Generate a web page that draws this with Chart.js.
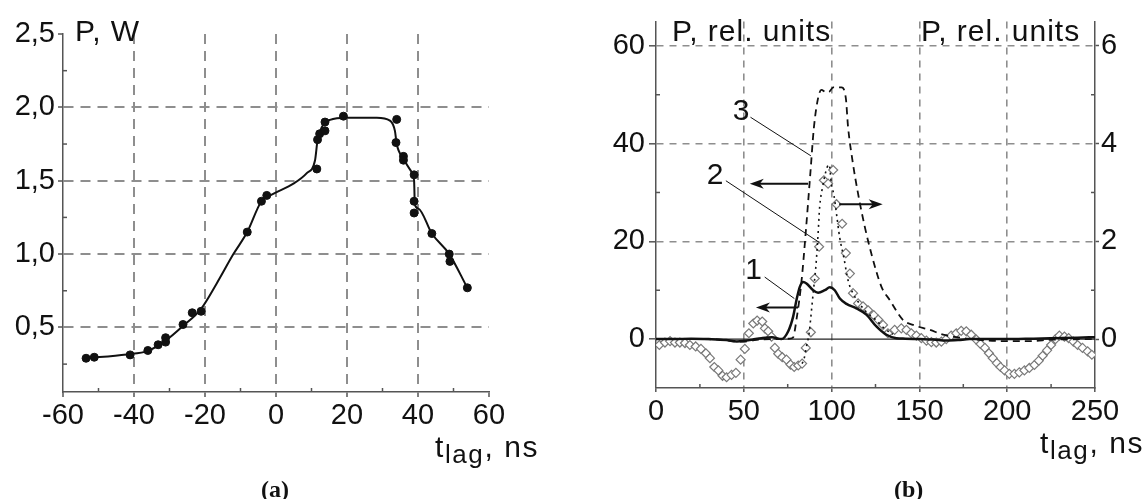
<!DOCTYPE html>
<html>
<head>
<meta charset="utf-8">
<script src="https://cdn.jsdelivr.net/npm/chart.js@4.4.0/dist/chart.umd.min.js"></script>
<style>
  body { margin: 0; background: #fff; width: 1147px; height: 499px; position: relative; overflow: hidden;
         font-family: "Liberation Sans", Arial, sans-serif; color: #111; }
  canvas { position: absolute; top: 0; }
  #chartA { left: 0; }
  #chartB { left: 560px; }
  .lbl { position: absolute; font-size: 30px; letter-spacing: 1px; line-height: 1; white-space: nowrap; }
  .lbl sub { font-size: 26px; vertical-align: -6px; line-height: 0; }
  .tl { letter-spacing: 1.6px; }
  .cap { position: absolute; font-family: "Liberation Serif", serif; font-weight: bold; font-size: 24px; line-height: 1; }
</style>
</head>
<body>
<canvas id="chartA" width="560" height="499"></canvas>
<canvas id="chartB" width="587" height="499"></canvas>

<div class="lbl" style="left:75px;top:16px">P, W</div>
<div class="lbl tl" style="left:435px;top:432px">t<sub>lag</sub>, ns</div>
<div class="cap" style="left:261px;top:477px">(a)</div>

<div class="lbl" style="left:672px;top:16px">P, rel. units</div>
<div class="lbl" style="left:921px;top:16px">P, rel. units</div>
<div class="lbl tl" style="left:1040px;top:428px">t<sub>lag</sub>, ns</div>
<div class="cap" style="left:894px;top:477px">(b)</div>

<script>
// ---- panel (a): measured points and fitted curve ----
const aPointsX = [-53.5, -51.2, -41.1, -36.1, -33.2, -31.1, -31.1, -26.2, -23.6, -21.1, -8.1, -4.1, -2.6,
                  11.5, 11.7, 12.3, 13.8, 13.8, 19.0, 34.0, 33.8, 35.9, 35.9, 38.9, 38.9, 38.9, 43.9, 48.8, 49.0, 53.9];
const aPointsY = [0.29, 0.297, 0.313, 0.343, 0.382, 0.40, 0.43, 0.52, 0.60, 0.61, 1.15, 1.36, 1.40,
                  1.58, 1.78, 1.82, 1.84, 1.90, 1.94, 1.918, 1.76, 1.666, 1.64, 1.54, 1.36, 1.28, 1.14, 1.0, 0.95, 0.77];

const aCurveX = [-53.5, -42.1, -36.1, -31.1, -26.2, -21.1, -16.7, -12.0, -8.1, -4.1, -0.8, 4.9, 8.6, 11.0, 11.7,
                 12.9, 15.2, 19.9, 28.4, 32.1, 33.5, 34.0, 35.9, 38.2, 38.9, 39.1, 40.1, 43.9, 48.8, 53.9];
const aCurveY = [0.29, 0.316, 0.34, 0.41, 0.51, 0.627, 0.80, 1.0, 1.15, 1.36, 1.41, 1.48, 1.55, 1.64, 1.775,
                 1.865, 1.915, 1.93, 1.93, 1.91, 1.84, 1.75, 1.65, 1.56, 1.50, 1.34, 1.31, 1.14, 1.0, 0.77];

const aXTicks = [-60, -40, -20, 0, 20, 40, 60];
const aYTicks = [0.5, 1.0, 1.5, 2.0, 2.5];
const aXMinor = [-50, -30, -10, 10, 30, 50];
const aYMinor = [0.25, 0.75, 1.25, 1.75, 2.25];

// ---- panel (b): curves 1 and 3 on the left axis, curve 2 + diamonds on the right axis ----
const c1X = [0, 10, 20, 30, 40, 46, 50, 55, 60, 66, 71.5, 75.3, 78.1, 80, 81.9, 83.8, 85.7, 89.5, 92.3, 96.1, 99,
             101.8, 104.7, 108.5, 114.1, 119.8, 125.5, 131.2, 136.9, 142, 150.2, 158, 165.3, 172, 178.6, 190, 197.5, 215, 227.8, 240, 250];
const c1Y = [0, 0, 0.1, 0, -0.2, -0.5, -0.4, -0.1, 0.2, 0.4, 0.0, 1.6, 4.6, 8.0, 10.7, 11.7, 11.4, 10.0, 9.5, 10.0, 10.6,
             10.0, 8.3, 7.2, 6.3, 5.0, 2.6, 0.9, 0.2, 0.1, 0, -0.1, -0.3, -0.2, 0, 0, 0, 0.1, 0.2, 0.3, 0.4];

const c3X = [0, 20, 40, 46, 50, 56, 65, 72, 76, 78, 80, 82.9, 85.2, 88, 89.9, 92.3, 94.2, 96.7, 98.6, 100.9, 105.6,
             108.1, 109.4, 111.9, 115.1, 118.9, 122.7, 128.4, 133.1, 140.7, 146.4, 155.9, 163.5, 171, 182.4, 197.5, 212.6, 225.9, 250];
const c3Y = [0, 0, -0.2, -0.5, -0.5, -0.2, 0, 0, 0.1, 0.3, 4, 12, 21.5, 34.4, 43.2, 49.3, 51, 50.5, 50.6, 51.5, 51.5,
             49.3, 43.3, 36.5, 29.7, 23, 17.4, 10.7, 8.0, 3.9, 2.9, 1.9, 0.9, 0.4, -0.1, -0.4, -0.4, -0.1, 0];

const c2X = [83.2, 84.2, 85.7, 87.2, 88.2, 89.5, 91, 92.3, 93.2, 94.8, 97.4, 98.6, 99.9, 101.2, 102.8, 104.6, 106.9,
             109.4, 112, 116, 120, 125, 130, 135];
const c2Y = [-0.5, -0.42, -0.15, 0.12, 0.46, 0.94, 1.47, 2.15, 2.7, 3.1, 3.51, 3.57, 3.17, 2.97, 2.56, 2.08, 1.68,
             1.2, 0.95, 0.72, 0.55, 0.4, 0.22, 0.1];

const diamondX = [1.9, 5.1, 8.0, 10.8, 13.6, 16.5, 19.3, 22.6, 25.6, 28.4, 30.7, 33.2, 35.5, 37.9, 40.2, 43.0, 45.5,
  48.2, 50.6, 52.9, 55.4, 57.6, 60.5, 62.0, 63.9, 65.8, 67.7, 69.6, 71.9, 74.3, 76.6, 78.7, 81.0, 83.2, 85.3, 88.2,
  90.4, 92.9, 95.6, 98.0, 100.9, 102.8, 106.0, 108.1, 110.4, 112.2, 115.1, 117.9, 120.8, 124.0, 126.5, 129.3, 132.1,
  135.9, 139.7, 142.6, 145.4, 148.3, 151.1, 154.0, 156.8, 159.6, 162.5, 165.3, 168.1, 171.0, 173.8, 176.7, 179.5,
  182.4, 184.8, 187.3, 189.6, 191.8, 194.1, 196.2, 198.5, 201.2, 204.1, 206.9, 209.8, 212.6, 215.5, 218.0, 220.2,
  222.7, 225.0, 227.5, 229.7, 232.6, 235.0, 237.7, 240.1, 242.9, 245.8, 248.2];
const diamondY = [-0.12, -0.07, -0.04, -0.07, -0.07, -0.08, -0.12, -0.15, -0.20, -0.29, -0.39, -0.57, -0.64, -0.75,
  -0.78, -0.73, -0.69, -0.42, -0.20, 0.12, 0.32, 0.38, 0.36, 0.22, 0.16, 0.05, -0.18, -0.30, -0.37, -0.42, -0.52,
  -0.57, -0.54, -0.50, -0.18, 0.14, 1.24, 1.89, 3.25, 3.18, 3.46, 2.76, 2.36, 1.76, 1.34, 0.94, 0.73, 0.67, 0.59,
  0.49, 0.40, 0.29, 0.12, 0.19, 0.22, 0.19, 0.12, 0.07, 0.02, -0.03, -0.06, -0.07, -0.05, 0.0, 0.07, 0.12, 0.17,
  0.16, 0.09, -0.01, -0.10, -0.18, -0.29, -0.39, -0.49, -0.57, -0.64, -0.71, -0.71, -0.68, -0.64, -0.59, -0.53,
  -0.44, -0.34, -0.23, -0.12, 0.0, 0.07, 0.05, 0.02, -0.05, -0.12, -0.18, -0.25, -0.32];

const bXTicks = [0, 50, 100, 150, 200, 250];
const bYTicks = [0, 20, 40, 60];
const bY2Ticks = [0, 2, 4, 6];
const bXMinor = [25, 75, 125, 175, 225];
const bYMinor = [10, 30, 50];
const bY2Minor = [1, 3, 5];

const toXY = (xs, ys) => xs.map((x, i) => ({ x: x, y: ys[i] }));

const tickFont = { family: '"Liberation Sans", Arial, sans-serif', size: 29 };
const gridGray = '#8e8e8e';
const axisGray = '#555';
const hidden = 'rgba(0,0,0,0)';

// minor ticks, zero line, the "1 2 3" callouts and arrows
const extras = {
  id: 'extras',
  beforeDatasetsDraw(chart, args, o) {
    if (!o.zeroLine) return;
    const ctx = chart.ctx, a = chart.chartArea;
    const y = chart.scales.y.getPixelForValue(0);
    ctx.save();
    ctx.strokeStyle = '#222';
    ctx.lineWidth = 1.2;
    ctx.beginPath(); ctx.moveTo(a.left, y); ctx.lineTo(a.right, y); ctx.stroke();
    ctx.restore();
  },
  afterDraw(chart, args, o) {
    const ctx = chart.ctx, a = chart.chartArea;
    ctx.save();
    ctx.strokeStyle = axisGray;
    ctx.lineWidth = 1.5;
    (o.minor || []).forEach(m => {
      const s = chart.scales[m.axis];
      m.values.forEach(v => {
        const p = s.getPixelForValue(v);
        ctx.beginPath();
        if (s.isHorizontal()) { ctx.moveTo(p, a.bottom); ctx.lineTo(p, a.bottom - 4); }
        else if (s.position === 'right') { ctx.moveTo(a.right, p); ctx.lineTo(a.right - 4, p); }
        else { ctx.moveTo(a.left, p); ctx.lineTo(a.left + 4, p); }
        ctx.stroke();
      });
    });

    const sx = chart.scales.x, sy = chart.scales.y;
    const px = v => sx.getPixelForValue(v), py = v => sy.getPixelForValue(v);

    ctx.strokeStyle = '#111';
    ctx.fillStyle = '#111';
    ctx.lineWidth = 1;
    (o.leaders || []).forEach(l => {
      ctx.beginPath(); ctx.moveTo(px(l[0]), py(l[1])); ctx.lineTo(px(l[2]), py(l[3])); ctx.stroke();
    });

    ctx.lineWidth = 2;
    (o.arrows || []).forEach(l => {
      const x1 = px(l[0]), y1 = py(l[1]), x2 = px(l[2]), y2 = py(l[3]);
      const dir = Math.sign(x2 - x1);
      ctx.beginPath(); ctx.moveTo(x1, y1); ctx.lineTo(x2 - dir * 8, y2); ctx.stroke();
      ctx.beginPath();
      ctx.moveTo(x2, y2);
      ctx.lineTo(x2 - dir * 14, y2 - 5);
      ctx.lineTo(x2 - dir * 10, y2);
      ctx.lineTo(x2 - dir * 14, y2 + 5);
      ctx.closePath();
      ctx.fill();
    });

    ctx.font = '30px "Liberation Sans", Arial, sans-serif';
    ctx.textAlign = 'center';
    ctx.textBaseline = 'middle';
    (o.texts || []).forEach(t => ctx.fillText(t.text, px(t.x), py(t.y)));
    ctx.restore();
  }
};

function fixedWidth(w) { return scale => { scale.width = w; }; }
function fixedHeight(h) { return scale => { scale.height = h; }; }
function setTicks(list) { return scale => { scale.ticks = list.map(v => ({ value: v })); }; }

// panel (a)
new Chart(document.getElementById('chartA'), {
  type: 'scatter',
  data: {
    datasets: [
      {
        type: 'line',
        data: toXY(aCurveX, aCurveY),
        borderColor: '#111',
        borderWidth: 2,
        pointRadius: 0,
        cubicInterpolationMode: 'monotone',
        order: 2
      },
      {
        data: toXY(aPointsX, aPointsY),
        backgroundColor: '#111',
        borderColor: '#111',
        pointRadius: 4,
        order: 1
      }
    ]
  },
  options: {
    responsive: false,
    animation: false,
    devicePixelRatio: 1,
    events: [],
    layout: { padding: { top: 34, right: 71, left: 0, bottom: 0 } },
    plugins: {
      legend: { display: false },
      tooltip: { enabled: false },
      extras: { minor: [{ axis: 'x', values: aXMinor }, { axis: 'y', values: aYMinor }] }
    },
    scales: {
      x: {
        type: 'linear', min: -60, max: 60,
        afterBuildTicks: setTicks(aXTicks),
        afterFit: fixedHeight(107),
        grid: {
          color: c => (c.tick && Math.abs(c.tick.value) < 60) ? gridGray : hidden,
          lineWidth: 2, tickLength: 5, tickColor: axisGray, tickWidth: 1.5
        },
        border: { display: true, color: axisGray, width: 1.5, dash: [10, 7] },
        ticks: { font: tickFont, color: '#111', padding: 2, maxRotation: 0, autoSkip: false,
                 callback: v => String(v) }
      },
      y: {
        type: 'linear', min: 0.06, max: 2.5,
        afterBuildTicks: setTicks(aYTicks),
        afterFit: fixedWidth(63),
        grid: {
          color: c => (c.tick && c.tick.value < 2.4) ? gridGray : hidden,
          lineWidth: 2, tickLength: 5, tickColor: axisGray, tickWidth: 1.5
        },
        border: { display: true, color: axisGray, width: 1.5, dash: [10, 7] },
        ticks: { font: tickFont, color: '#111', padding: 3, autoSkip: false,
                 callback: v => v.toFixed(1).replace('.', ',') }
      }
    }
  },
  plugins: [extras]
});

// panel (b)
new Chart(document.getElementById('chartB'), {
  type: 'scatter',
  data: {
    datasets: [
      {
        type: 'line', label: '1',
        data: toXY(c1X, c1Y), yAxisID: 'y',
        borderColor: '#111', borderWidth: 2.5, pointRadius: 0,
        cubicInterpolationMode: 'monotone', order: 1
      },
      {
        type: 'line', label: '3',
        data: toXY(c3X, c3Y), yAxisID: 'y',
        borderColor: '#111', borderWidth: 1.8, borderDash: [7, 5], pointRadius: 0,
        cubicInterpolationMode: 'monotone', order: 2
      },
      {
        type: 'line', label: '2',
        data: toXY(c2X, c2Y), yAxisID: 'y2',
        borderColor: '#111', borderWidth: 1.6, borderDash: [2, 4], pointRadius: 0,
        cubicInterpolationMode: 'monotone', order: 3
      },
      {
        label: '2 data',
        data: toXY(diamondX, diamondY), yAxisID: 'y2',
        pointStyle: 'rectRot', pointRadius: 4.5,
        backgroundColor: '#fff', borderColor: '#7a7a7a', borderWidth: 1.2,
        order: 4
      }
    ]
  },
  options: {
    responsive: false,
    animation: false,
    devicePixelRatio: 1,
    events: [],
    layout: { padding: { top: 19, right: 0, left: 0, bottom: 0 } },
    plugins: {
      legend: { display: false },
      tooltip: { enabled: false },
      extras: {
        zeroLine: true,
        minor: [{ axis: 'x', values: bXMinor }, { axis: 'y', values: bYMinor }, { axis: 'y2', values: bY2Minor }],
        texts: [{ text: '3', x: 48.5, y: 46.5 }, { text: '2', x: 33.6, y: 33.5 }, { text: '1', x: 55.6, y: 14 }],
        leaders: [[53.8, 45.4, 88.2, 37.5], [39.8, 32.4, 92.9, 19.8], [61.9, 12.7, 78.8, 8.3]],
        arrows: [[86.6, 31.8, 53.4, 31.8], [104.3, 27.6, 129.1, 27.6], [80.9, 6.45, 56.9, 6.45]]
      }
    },
    scales: {
      x: {
        type: 'linear', min: 0, max: 250,
        afterBuildTicks: setTicks(bXTicks),
        afterFit: fixedHeight(111),
        grid: {
          color: c => (c.tick && c.tick.value > 0 && c.tick.value < 250) ? gridGray : hidden,
          lineWidth: 1.6, tickLength: 4, tickColor: axisGray, tickWidth: 1.5
        },
        border: { display: true, color: axisGray, width: 1.5, dash: [7, 6] },
        ticks: { font: tickFont, color: '#111', padding: 3, maxRotation: 0, autoSkip: false }
      },
      y: {
        type: 'linear', position: 'left', min: -10, max: 65,
        afterBuildTicks: setTicks(bYTicks),
        afterFit: fixedWidth(96),
        grid: {
          color: c => (c.tick && c.tick.value > 0) ? gridGray : hidden,
          lineWidth: 1.6, tickLength: 7, tickColor: axisGray, tickWidth: 1.5
        },
        border: { display: true, color: axisGray, width: 1.5, dash: [7, 6] },
        ticks: { font: tickFont, color: '#111', padding: 4, autoSkip: false }
      },
      y2: {
        type: 'linear', position: 'right', min: -1, max: 6.5,
        afterBuildTicks: setTicks(bY2Ticks),
        afterFit: fixedWidth(52),
        grid: { drawOnChartArea: false, tickLength: 4, tickColor: axisGray, tickWidth: 1.5 },
        border: { display: true, color: axisGray, width: 1.5 },
        ticks: { font: tickFont, color: '#111', padding: 2, autoSkip: false }
      }
    }
  },
  plugins: [extras]
});
</script>
</body>
</html>
